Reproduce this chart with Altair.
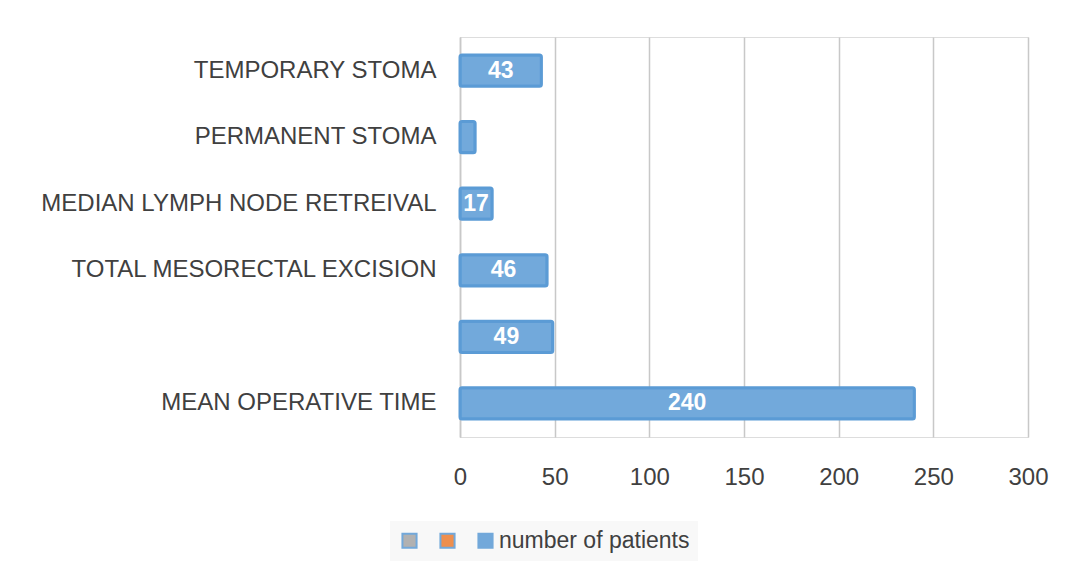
import altair as alt
import pandas as pd

categories = ["TEMPORARY STOMA", "PERMANENT STOMA", "MEDIAN LYMPH NODE RETREIVAL",
              "TOTAL MESORECTAL EXCISION", " ", "MEAN OPERATIVE TIME"]
values = [43, 8, 17, 46, 49, 240]
labels = ["43", "", "17", "46", "49", "240"]
series = "number of patients"
legend_domain = ["s1", "s2", "number of patients"]
legend_colors = ["#a5a5a5", "#ed7d31", "#5b9bd5"]
x_ticks = [0, 50, 100, 150, 200, 250, 300]

df = pd.DataFrame({"cat": categories, "value": values, "label": labels, "series": series})

FONT = "Liberation Sans"

y_enc = alt.Y("cat:N", sort=categories, title=None,
              scale=alt.Scale(paddingInner=0.53, paddingOuter=0.27),
              axis=alt.Axis(labelFontSize=24, labelColor="#404040", labelFont=FONT,
                            labelPadding=24, ticks=False, domain=True, domainColor="#c8c8c8",
                            domainWidth=1.5, labelLimit=700))

bars = alt.Chart(df).mark_bar(fill="#72a9db", stroke="#5b9bd5", strokeWidth=3,
                              cornerRadius=2).encode(
    x=alt.X("value:Q", title=None, scale=alt.Scale(domain=[0, 300]),
            axis=alt.Axis(values=x_ticks, labelFontSize=24, labelFlush=False,
                          labelColor="#404040", labelFont=FONT, labelPadding=28,
                          ticks=False, domain=False, grid=True, gridColor="#c8c8c8",
                          gridWidth=1.5)),
    y=y_enc,
    color=alt.Color("series:N", scale=alt.Scale(domain=legend_domain, range=legend_colors),
                    legend=alt.Legend(orient="none", legendX=-70, legendY=484,
                                      direction="horizontal", title=None,
                                      labelExpr="datum.label == 'number of patients' ? datum.label : ''",
                                      symbolType="square", symbolSize=200, symbolStrokeWidth=2,
                                      symbolOpacity=0.85,
                                      labelFontSize=23, labelColor="#404040", labelLimit=400,
                                      labelFont=FONT, labelOffset=2,
                                      columnPadding=13, fillColor="#f8f8f8",
                                      padding=8))
)

text = alt.Chart(df).transform_calculate(mid="datum.value / 2").mark_text(
    color="white", fontSize=23, fontWeight="bold", font=FONT, baseline="middle"
).encode(x="mid:Q", y=alt.Y("cat:N", sort=categories), text="label:N")

chart = (bars + text).properties(
    width=568, height=400,
    padding={"left": 32, "top": 29, "right": 0, "bottom": 0},
).configure_view(stroke=None).configure(background="white")

chart.save("out.html", embed_options={"renderer": "svg", "actions": False})
